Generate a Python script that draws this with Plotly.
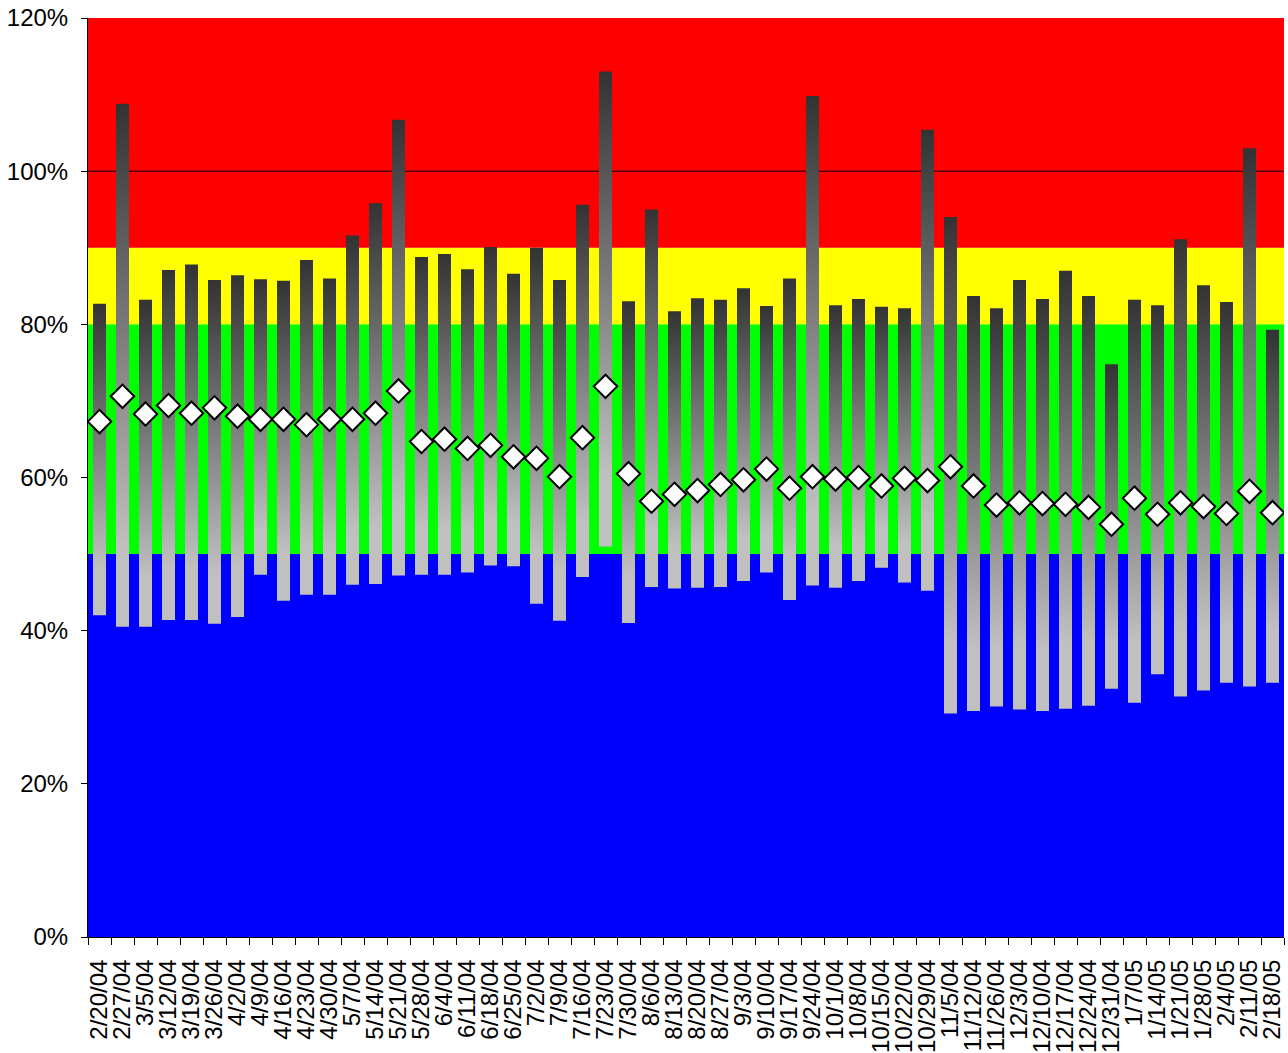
import plotly.graph_objects as go

dates = ["2/20/04", "2/27/04", "3/5/04", "3/12/04", "3/19/04", "3/26/04", "4/2/04", "4/9/04",
         "4/16/04", "4/23/04", "4/30/04", "5/7/04", "5/14/04", "5/21/04", "5/28/04", "6/4/04",
         "6/11/04", "6/18/04", "6/25/04", "7/2/04", "7/9/04", "7/16/04", "7/23/04", "7/30/04",
         "8/6/04", "8/13/04", "8/20/04", "8/27/04", "9/3/04", "9/10/04", "9/17/04", "9/24/04",
         "10/1/04", "10/8/04", "10/15/04", "10/22/04", "10/29/04", "11/5/04", "11/12/04",
         "11/26/04", "12/3/04", "12/10/04", "12/17/04", "12/24/04", "12/31/04", "1/7/05",
         "1/14/05", "1/21/05", "1/28/05", "2/4/05", "2/11/05", "2/18/05"]

high = [82.7, 108.8, 83.2, 87.1, 87.8, 85.8, 86.4, 85.9, 85.7, 88.4, 86.0, 91.6, 95.8,
        106.7, 88.8, 89.2, 87.2, 90.1, 86.6, 90.0, 85.8, 95.6, 113.0, 83.0, 95.0, 81.7,
        83.4, 83.2, 84.7, 82.4, 86.0, 109.8, 82.5, 83.3, 82.3, 82.1, 105.4, 94.0, 83.7,
        82.1, 85.8, 83.3, 87.0, 83.7, 74.8, 83.2, 82.5, 91.1, 85.1, 82.9, 103.0, 79.3]

low = [42.0, 40.5, 40.5, 41.4, 41.4, 40.9, 41.8, 47.3, 43.9, 44.7, 44.7, 46.0, 46.1,
       47.2, 47.3, 47.3, 47.6, 48.5, 48.4, 43.5, 41.3, 47.0, 51.0, 41.0, 45.7, 45.5,
       45.6, 45.7, 46.5, 47.6, 44.0, 45.9, 45.6, 46.5, 48.2, 46.3, 45.2, 29.2, 29.5,
       30.1, 29.7, 29.5, 29.8, 30.2, 32.4, 30.6, 34.3, 31.4, 32.2, 33.2, 32.7, 33.2]

avg = [67.3, 70.6, 68.3, 69.4, 68.4, 69.1, 68.0, 67.6, 67.6, 66.9, 67.6, 67.6, 68.4,
       71.3, 64.7, 65.0, 63.8, 64.2, 62.7, 62.5, 60.1, 65.2, 71.9, 60.5, 56.9, 57.8,
       58.3, 59.1, 59.7, 61.1, 58.6, 60.1, 59.8, 60.0, 58.9, 59.9, 59.6, 61.4, 58.9,
       56.4, 56.7, 56.6, 56.5, 56.1, 53.9, 57.3, 55.2, 56.7, 56.2, 55.3, 58.2, 55.4]

band_edges = [0, 50, 80, 90, 120]
band_colors = ["#0000FF", "#00FF00", "#FFFF00", "#FF0000"]
y_ticks = [0, 20, 40, 60, 80, 100, 120]

FONT = "Liberation Sans, Arial, sans-serif"
n = len(dates)
bw = 0.565  # bar width in category units

fig = go.Figure()

for i, (lo, hi) in enumerate(zip(low, high)):
    fig.add_trace(go.Scatter(
        x=[i - bw / 2, i + bw / 2, i + bw / 2, i - bw / 2, i - bw / 2],
        y=[lo, lo, hi, hi, lo],
        mode="lines", line=dict(width=0),
        fill="toself",
        fillgradient=dict(type="vertical",
                          colorscale=[[0, "#c0c0c0"], [0.15, "#c0c0c0"], [1, "#333333"]]),
        hoverinfo="skip", showlegend=False,
    ))

fig.add_trace(go.Scatter(
    x=list(range(n)), y=avg, mode="markers",
    marker=dict(symbol="diamond", size=18, color="white",
                line=dict(color="black", width=2)),
    showlegend=False,
))

shapes = []
for (y0, y1), c in zip(zip(band_edges[:-1], band_edges[1:]), band_colors):
    shapes.append(dict(type="rect", xref="paper", yref="y", x0=0, x1=1, y0=y0, y1=y1,
                       fillcolor=c, line=dict(width=0), layer="below"))
shapes.append(dict(type="line", xref="paper", yref="y", x0=0, x1=1, y0=100, y1=100,
                   line=dict(color="black", width=1), layer="below"))

fig.update_layout(
    width=1288, height=1053,
    margin=dict(l=88, r=4, t=18, b=116),
    paper_bgcolor="white", plot_bgcolor="white",
    font=dict(family=FONT, size=24, color="black"),
    shapes=shapes,
    showlegend=False,
    xaxis=dict(
        range=[-0.5, n - 0.5],
        tickmode="array", tickvals=list(range(n)), ticktext=dates,
        tickangle=-90, ticks="",
        showgrid=False, zeroline=False, automargin=False,
        showline=True, linecolor="black", linewidth=1,
        tickfont=dict(family=FONT, size=24, color="black"),
        ticklabelstandoff=12,
        minor=dict(ticks="outside", tickmode="linear", tick0=-0.5, dtick=1,
                   ticklen=7, tickcolor="black", tickwidth=1, showgrid=False),
    ),
    yaxis=dict(
        range=[0, 120],
        tickmode="array", tickvals=y_ticks, ticktext=[f"{v}%" for v in y_ticks],
        ticks="outside", ticklen=6, tickcolor="black",
        showgrid=False, zeroline=False, automargin=False,
        showline=True, linecolor="black", linewidth=1,
        ticklabelstandoff=8,
        tickfont=dict(family=FONT, size=24, color="black"),
    ),
)

fig.write_html("out.html",
               config={"displayModeBar": False},
               post_script="document.body.style.margin='0';document.body.style.overflow='hidden';")
